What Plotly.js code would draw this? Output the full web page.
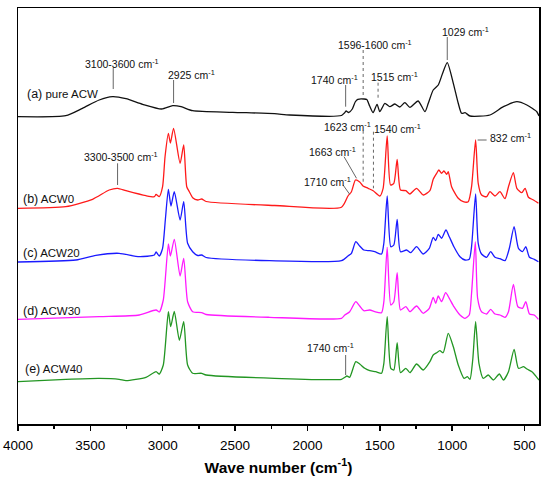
<!DOCTYPE html>
<html><head><meta charset="utf-8">
<script src="https://cdn.plot.ly/plotly-3.0.1.min.js"></script>
<style>html,body{margin:0;padding:0;background:#fff}#chart{width:550px;height:481px}</style>
</head><body><div id="chart"></div>
<script>
// (a) pure ACW
const wnA = [4000,3670,3555,3439,3347,3254,3139,3008,2931,2873,2793,2516,2227,2123,1765,1745,1733,1715,1690,1670,1652,1610,1590,1570,1546,1519,1500,1465,1431,1396,1362,1327,1292,1235,1188,1165,1131,1096,1066,1034,992,958,935,911,877,739,646,553,484,415,400];
const absA = [307.3,308.3,315.7,324,327.3,325.3,319.7,315,318.3,317.3,313.3,311.7,310.3,309,308.5,311,313,311.5,315,322,324.7,325,324.5,318,311.3,319.7,312.3,320.7,317.3,320,317,321.3,316.7,323,312.3,320.7,334,339,350.7,361.3,340.7,320.7,310.7,311.3,308,309,317.3,322.3,319,312.3,308];
// (b) ACW0
const wnB = [4000,3670,3485,3370,3312,3254,3116,3058,3046,3024,3001,2984,2961,2947,2925,2880,2855,2834,2816,2793,2758,2731,2700,2227,1765,1720,1696,1668,1639,1616,1581,1546,1500,1477,1449,1426,1403,1380,1357,1320,1292,1246,1200,1154,1131,1107,1092,1073,1057,1038,1027,1004,958,923,889,866,838,820,797,762,739,704,670,635,611,577,553,519,496,473,438,404];
const absB = [215.7,217.3,224.7,234,235.7,233.3,228.3,227.3,229.5,227.3,237.3,267.3,290.7,281,295.7,260.7,279,237.3,232.3,226.3,224,225,222.5,218.5,216.7,228,232.3,244,242,238,235.7,233.3,228,235.7,288,239,240.7,264.7,234,233.3,230,235.7,229,233.3,244.7,250.7,254,250.7,253,249.7,252.3,237.3,225.7,222.3,222.3,237.3,284,240.7,229,227.3,232.3,228,232.3,225.3,237.3,251.3,235.7,231.3,235.7,226.7,224,220.7];
// (c) ACW20
const wnC = [4000,3600,3462,3301,3162,3058,3046,3024,3001,2982,2961,2943,2920,2880,2855,2828,2793,2758,2731,2700,2262,1765,1720,1696,1666,1639,1611,1569,1535,1488,1472,1449,1424,1403,1380,1357,1315,1287,1246,1200,1158,1131,1114,1096,1073,1043,1020,988,946,911,882,866,838,820,797,762,734,704,670,635,605,572,542,514,491,466,433,404];
const absC = [162,164,168.7,170.7,167.3,169,172,168,175.7,204,234.7,218,232.3,204,222.3,180.7,172.3,168.5,169,166.5,163.3,163.3,168,170.7,182.3,178,174,173.3,172.3,170,181,228,177.3,179,204.7,172.3,174,171.3,177.3,170,175.7,186.7,183.3,189.7,185.7,194,187.3,177.3,167.3,164,164.7,177.3,230,180.7,170,166.7,172.3,166.7,165.3,163.3,175.7,197.3,175.7,172.3,177.3,166.7,164.7,162.3];
// (d) ACW30
const wnD = [4000,3439,3162,3046,3024,2996,2961,2947,2920,2880,2855,2828,2793,2731,2700,2262,1765,1742,1708,1666,1639,1611,1569,1535,1488,1472,1449,1424,1403,1380,1357,1320,1292,1246,1200,1158,1131,1114,1096,1073,1045,1020,988,946,911,882,866,840,824,797,762,734,704,670,635,611,577,546,514,491,466,433,404];
const absD = [104.7,107.3,109,114,112,124,180,168,184.7,148,165.7,122.3,112.3,111.3,109.5,106.7,105.7,109,112.3,122.3,118,113.3,114,112.3,111.3,122.3,176.7,119,122.3,151.3,114,117.3,112.3,118,110.7,115.7,126.7,120.7,128,122.3,131.3,125.7,117.3,109,105.7,109,130.7,182.3,125.7,112.3,110,114.7,110,109,106.7,112.3,139.7,117.3,115.7,122.3,110,109,104.7];
// (e) ACW40
const wnE = [4000,3670,3439,3301,3254,3116,3046,3024,2996,2961,2945,2920,2885,2855,2828,2793,2731,2700,2227,1765,1742,1727,1708,1666,1639,1604,1569,1528,1488,1472,1449,1424,1403,1380,1357,1320,1292,1246,1200,1154,1131,1107,1085,1062,1027,992,958,918,895,877,858,838,815,785,751,715,674,646,611,572,542,507,480,449,415,400];
const absE = [42.3,44.7,45.7,44.7,43.3,46.7,52.3,50,59,112.3,97.5,112.5,83.7,102.3,59,50.7,50.7,49,45.7,44.7,46.7,48,46.7,62.3,60,55.7,53.3,52.3,50.7,60.7,107.3,55.7,54,81.3,51.3,55.7,51.3,60,54,62.3,69,71.3,73.3,71.3,90.7,77.3,59,45.7,47.3,44.7,64,102.3,60.7,45.7,49,44,50,44,52.3,74.7,55.7,57.3,54.7,52.3,46.7,44];

const seriesNames = ['pure ACW','ACW0','ACW20','ACW30','ACW40'];
const seriesTags = ['(a)','(b)','(c)','(d)','(e)'];
const seriesColors = ['#111111','#ff1a1a','#1a1aff','#ff1aff','#239623'];
const tickVals = [4000,3500,3000,2500,2000,1500,1000,500];

// label positions (wavenumber, offset intensity)
const tagX = [3952,3981,3977,3977,3965];
const tagY = [329.7,224.7,171.3,113.3,54.7];

// peak callouts: text, text x, text y, line x0, y0, x1, y1, dotted
const calloutText = ['3100-3600 cm<sup>-1</sup>','2925 cm<sup>-1</sup>','1029 cm<sup>-1</sup>','1596-1600 cm<sup>-1</sup>','1740 cm<sup>-1</sup>','1515 cm<sup>-1</sup>','3300-3500 cm<sup>-1</sup>','1623 cm<sup>-1</sup>','1540 cm<sup>-1</sup>','1663 cm<sup>-1</sup>','1710 cm<sup>-1</sup>','832 cm<sup>-1</sup>','1740 cm<sup>-1</sup>'];
const calloutTX = [3550,2980,1085,1800,1992,1574,3555,1900,1556,2003,2038,750,2019];
const calloutTY = [361,350,392.3,379.7,344.7,347.3,267.3,297.3,295.7,272.3,242.3,286.3,76.7];
const lineX0 = [3342,2925,1034,1615,1736,1512,3312,1615,1544,1747,1754,824,1736];
const lineY0 = [356,344,387,374,339,341.3,260.7,293.3,292.3,267.3,239,284,69];
const lineX1 = [3342,2925,1034,1615,1736,1512,3312,1615,1544,1661,1708,762,1736];
const lineY1 = [335,321,364,326,317.3,324,239,242.3,235.7,245.7,229.7,284,49];
const lineDot = [false,false,false,true,false,true,false,true,true,false,false,false,false];

const xs = [wnA,wnB,wnC,wnD,wnE];
const ys = [absA,absB,absC,absD,absE];
const FONT = 'Arial, "Liberation Sans", sans-serif';

const traces = xs.map((x,i)=>({
  x: x, y: ys[i], type:'scatter', mode:'lines', name: seriesNames[i],
  line:{color:seriesColors[i], width:1.3, shape:'spline', smoothing:0.6},
  hoverinfo:'skip'
}));

const annotations = [];
seriesNames.forEach((n,i)=>{
  annotations.push({x:tagX[i], y:tagY[i], xref:'x', yref:'y', showarrow:false, xanchor:'left', yanchor:'middle',
    text: '<span style="font-size:12.5px">'+seriesTags[i]+'</span> '+n, font:{family:FONT, size:11.5, color:'#111'}});
});
const shapes = [];
calloutText.forEach((t,i)=>{
  annotations.push({x:calloutTX[i], y:calloutTY[i], xref:'x', yref:'y', showarrow:false, xanchor:'left', yanchor:'middle',
    text:t, font:{family:FONT, size:10.5, color:'#111'}});
  shapes.push({type:'line', xref:'x', yref:'y', x0:lineX0[i], y0:lineY0[i], x1:lineX1[i], y1:lineY1[i],
    line:{color:'#666', width:1, dash: lineDot[i]?'dot':'solid'}});
});

const layout = {
  width:550, height:481,
  margin:{l:18, r:11, t:8, b:57},
  paper_bgcolor:'#fff', plot_bgcolor:'#fff',
  showlegend:false,
  xaxis:{range:[4000,400], tickmode:'array', tickvals:tickVals, ticktext:tickVals.map(String),
    ticks:'outside', ticklen:5, tickwidth:1.5, tickcolor:'#000', ticklabelstandoff:3,
    minor:{tickvals:[3750,3250,2750,2250,1750,1250,750], ticks:'outside', ticklen:3, tickwidth:1.5, tickcolor:'#000'},
    showline:true, linecolor:'#000', linewidth:1.5, mirror:true, showgrid:false, zeroline:false,
    tickfont:{family:FONT, size:13.5, color:'#000'},
    title:{text:'<b>Wave number (cm<sup>-1</sup>)</b>', font:{family:FONT, size:15.5, color:'#000'}, standoff:10}},
  yaxis:{range:[0,416], showticklabels:false, ticks:'', showline:true, linecolor:'#000', linewidth:1.5, mirror:true,
    showgrid:false, zeroline:false},
  annotations: annotations,
  shapes: shapes
};
Plotly.newPlot('chart', traces, layout, {displayModeBar:false, staticPlot:true});
</script></body></html>
